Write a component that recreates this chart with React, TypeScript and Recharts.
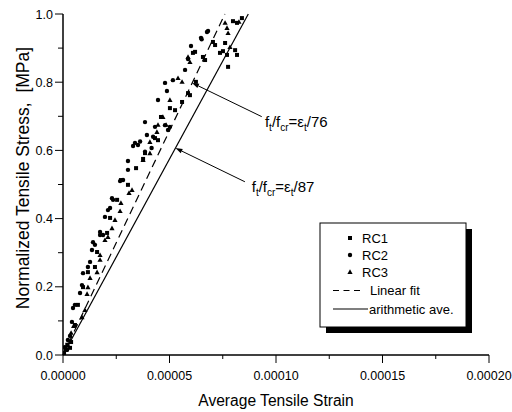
import React from 'react';
import { ScatterChart, Scatter, XAxis, YAxis, ReferenceLine, ReferenceDot, Legend } from 'recharts';

const FONT = '"Liberation Sans", Arial, Helvetica, sans-serif';

// Average tensile strain in units of 1e-6, normalized tensile stress
const RC1: [number, number][] = [
  [0.5, 0.006], [1.4, 0.015], [3.3, 0.021], [3.8, 0.038], [2.0, 0.03], [5.6, 0.088], [7.0, 0.147],
  [9.4, 0.199], [11.7, 0.243], [15.0, 0.258], [16.0, 0.302], [20.7, 0.358], [22.1, 0.402],
  [25.4, 0.455], [27.2, 0.513], [30.5, 0.499], [34.3, 0.548], [37.6, 0.575], [38.5, 0.592],
  [43.2, 0.636], [44.6, 0.63], [46.0, 0.698], [50.2, 0.724], [52.6, 0.718], [55.9, 0.742],
  [58.7, 0.768], [59.6, 0.762], [62.4, 0.801], [61.0, 0.886], [62.0, 0.889], [65.7, 0.874],
  [66.7, 0.865], [70.4, 0.918], [71.4, 0.909], [73.7, 0.886], [75.1, 0.891], [76.1, 0.915],
  [77.0, 0.88], [77.5, 0.845], [80.8, 0.894], [81.7, 0.88], [79.8, 0.979], [81.7, 0.974], [84.0, 0.988],
];

const RC2: [number, number][] = [
  [0.9, 0.023], [1.9, 0.015], [2.3, 0.044], [3.3, 0.056], [4.2, 0.097], [4.7, 0.138], [5.6, 0.147],
  [8.0, 0.182], [8.9, 0.205], [9.4, 0.24], [11.7, 0.258], [12.7, 0.273], [13.6, 0.308], [14.1, 0.331],
  [15.0, 0.323], [17.4, 0.361], [17.4, 0.352], [18.8, 0.352], [19.7, 0.405], [21.1, 0.425], [22.1, 0.431],
  [23.0, 0.46], [23.5, 0.455], [26.8, 0.51], [28.2, 0.513], [30.5, 0.543], [30.5, 0.569], [32.9, 0.613],
  [33.8, 0.622], [35.2, 0.616], [36.2, 0.626], [38.5, 0.683], [38.5, 0.596], [39.4, 0.645], [41.6, 0.607],
  [42.3, 0.64], [43.2, 0.669], [44.6, 0.748], [47.9, 0.674], [47.9, 0.798], [48.8, 0.774], [49.3, 0.66],
  [50.2, 0.669], [51.6, 0.806], [57.3, 0.836], [58.7, 0.868], [60.1, 0.906], [64.8, 0.93], [65.1, 0.926],
  [67.6, 0.947], [68.1, 0.95],
];

const RC3: [number, number][] = [
  [2.3, 0.029], [3.8, 0.065], [5.0, 0.085], [8.9, 0.111], [10.3, 0.132], [11.3, 0.179], [11.7, 0.199],
  [12.7, 0.226], [16.0, 0.243], [17.4, 0.279], [17.4, 0.293], [19.7, 0.337], [21.1, 0.346], [23.0, 0.372],
  [24.4, 0.396], [26.8, 0.422], [27.2, 0.446], [31.0, 0.475], [32.4, 0.484], [37.6, 0.572], [40.8, 0.592],
  [40.8, 0.625], [44.1, 0.654], [44.6, 0.675], [46.9, 0.698], [48.4, 0.675], [50.2, 0.748], [54.0, 0.812],
  [55.9, 0.801], [58.7, 0.874], [59.6, 0.859], [76.1, 0.974], [77.0, 0.959], [77.5, 0.944], [78.4, 0.903],
  [82.6, 0.977],
];

// f_t/f_cr = eps_t / k   (eps_t in 1e-6)
const FIT_K = 76;
const AVE_K = 87;

const X_TICKS = [0, 25, 50, 75, 100, 125, 150, 175, 200];
const X_MAJOR = [0, 50, 100, 150, 200];
const Y_TICKS = [0, 0.1, 0.2, 0.3, 0.4, 0.5, 0.6, 0.7, 0.8, 0.9, 1.0];
const Y_MAJOR = [0, 0.2, 0.4, 0.6, 0.8, 1.0];

// annotation arrows: start (near text) -> target on the line; text anchor
const ANN_K = [FIT_K, AVE_K];
const ANN_FROM: [number, number][] = [[93.3, 0.699], [85.4, 0.508]];
const ANN_TO: [number, number][] = [[60.6, 0.798], [52.8, 0.607]];
const ANN_TEXT: [number, number][] = [[94.8, 0.6695], [88.6, 0.479]];

const toPts = (arr: [number, number][]) => arr.map(([x, y]) => ({ x, y }));

const SquareShape = (p: any) => <rect x={p.cx - 2} y={p.cy - 2} width={4} height={4} fill="#000" />;
const CircleShape = (p: any) => <circle cx={p.cx} cy={p.cy} r={2.2} fill="#000" />;
const TriShape = (p: any) => (
  <polygon points={`${p.cx},${p.cy - 2.7} ${p.cx - 2.6},${p.cy + 2} ${p.cx + 2.6},${p.cy + 2}`} fill="#000" />
);

const XTick = (props: any) => {
  const { x, y, payload } = props;
  const v = payload.value;
  const major = X_MAJOR.includes(v);
  return (
    <g>
      <line x1={x} x2={x} y1={y} y2={y + (major ? 8 : 4)} stroke="#000" strokeWidth={1} />
      {major && (
        <text x={x} y={y + 25} textAnchor="middle" fontSize={12.5} fontFamily={FONT} fill="#000">
          {(v / 1e6).toFixed(5)}
        </text>
      )}
    </g>
  );
};

const YTick = (props: any) => {
  const { x, y, payload } = props;
  const v = payload.value;
  const major = Y_MAJOR.some((m) => Math.abs(m - v) < 1e-9);
  return (
    <g>
      <line x1={x} x2={x - (major ? 8 : 5)} y1={y} y2={y} stroke="#000" strokeWidth={1} />
      {major && (
        <text x={x - 10} y={y + 4.5} textAnchor="end" fontSize={12.5} fontFamily={FONT} fill="#000">
          {v.toFixed(1)}
        </text>
      )}
    </g>
  );
};

const TopTick = (props: any) => {
  const { x, y } = props;
  return <line x1={x} x2={x} y1={y} y2={y + 3} stroke="#000" strokeWidth={1} />;
};
const RightTick = (props: any) => {
  const { x, y } = props;
  return <line x1={x} x2={x - 3} y1={y} y2={y} stroke="#000" strokeWidth={1} />;
};

const ArrowShape = (props: any) => {
  const { x1, y1, x2, y2 } = props;
  const dx = x2 - x1;
  const dy = y2 - y1;
  const len = Math.sqrt(dx * dx + dy * dy) || 1;
  const ux = dx / len;
  const uy = dy / len;
  const L = 7;
  const W = 2.3;
  const bx = x2 - ux * L;
  const by = y2 - uy * L;
  return (
    <g>
      <line x1={x1} y1={y1} x2={bx} y2={by} stroke="#000" strokeWidth={1} />
      <polygon
        points={`${x2},${y2} ${bx - uy * W},${by + ux * W} ${bx + uy * W},${by - ux * W}`}
        fill="#000"
      />
    </g>
  );
};

const makeAnnText = (k: number) => (props: any) => {
  const { cx, cy } = props;
  return (
    <text x={cx} y={cy} fontSize={15} fontFamily={FONT} fill="#000">
      <tspan>f</tspan>
      <tspan fontSize={10} dy={4}>t</tspan>
      <tspan dy={-4}>/f</tspan>
      <tspan fontSize={10} dy={4}>cr</tspan>
      <tspan dy={-4}>=ε</tspan>
      <tspan fontSize={10} dy={4}>t</tspan>
      <tspan dy={-4}>{`/${k}`}</tspan>
    </text>
  );
};

const LEGEND_ITEMS = ['RC1', 'RC2', 'RC3', 'Linear fit', 'arithmetic ave.'];

const LegendBox = () => {
  const ox = 315;
  const oy = 215;
  const bx = 320 - ox;
  const by = 223 - oy;
  const bw = 146;
  const bh = 104;
  const rows = [238, 255, 272, 290.5, 309].map((v) => v - oy);
  const mx = 350 - ox;
  const tx = 362 - ox;
  const ts = { fontSize: 13, fontFamily: FONT, fill: '#000' } as const;
  return (
    <svg width={170} height={125} style={{ display: 'block' }}>
      <rect x={bx + 6} y={by + 6} width={bw} height={bh} fill="#000" />
      <rect x={bx} y={by} width={bw} height={bh} fill="#fff" stroke="#000" strokeWidth={1} />
      <SquareShape cx={mx} cy={rows[0]} />
      <text x={tx} y={rows[0] + 4.5} {...ts}>{LEGEND_ITEMS[0]}</text>
      <CircleShape cx={mx} cy={rows[1]} />
      <text x={tx} y={rows[1] + 4.5} {...ts}>{LEGEND_ITEMS[1]}</text>
      <TriShape cx={mx} cy={rows[2]} />
      <text x={tx} y={rows[2] + 4.5} {...ts}>{LEGEND_ITEMS[2]}</text>
      <line x1={333 - ox} x2={360 - ox} y1={rows[3]} y2={rows[3]} stroke="#000" strokeWidth={1.2} strokeDasharray="6 4.5" />
      <text x={370 - ox} y={rows[3] + 4.5} {...ts}>{LEGEND_ITEMS[3]}</text>
      <line x1={333 - ox} x2={368 - ox} y1={rows[4]} y2={rows[4]} stroke="#000" strokeWidth={1.2} />
      <text x={369 - ox} y={rows[4] + 4.5} {...ts}>{LEGEND_ITEMS[4]}</text>
    </svg>
  );
};

export default function App() {
  return (
    <div style={{ position: 'absolute', left: 0, top: 0, width: 512, height: 412, background: '#fff', fontFamily: FONT }}>
      <ScatterChart width={512} height={412} margin={{ top: 14, right: 23, bottom: 0, left: 0 }}>
        <XAxis
          xAxisId={0}
          type="number"
          dataKey="x"
          domain={[0, 200]}
          ticks={X_TICKS}
          interval={0}
          height={57}
          tickLine={false}
          tickSize={0}
          tickMargin={0}
          tick={<XTick />}
          axisLine={{ stroke: '#000', strokeWidth: 1.5 }}
          allowDataOverflow
          label={() => (
            <text x={276} y={406} textAnchor="middle" fontSize={15.6} fontFamily={FONT} fill="#000">
              Average Tensile Strain
            </text>
          )}
        />
        <YAxis
          yAxisId={0}
          type="number"
          dataKey="y"
          domain={[0, 1]}
          ticks={Y_TICKS}
          interval={0}
          width={63}
          tickLine={false}
          tickSize={0}
          tickMargin={0}
          tick={<YTick />}
          axisLine={{ stroke: '#000', strokeWidth: 1.5 }}
          allowDataOverflow
          label={() => (
            <text
              x={29}
              y={178}
              transform="rotate(-90, 29, 178)"
              textAnchor="middle"
              fontSize={17.5}
              fontFamily={FONT}
              fill="#000"
            >
              {'Normalized Tensile Stress,\u00a0\u00a0[MPa]'}
            </text>
          )}
        />
        <XAxis
          xAxisId="top"
          orientation="top"
          type="number"
          domain={[0, 200]}
          ticks={X_TICKS}
          interval={0}
          height={0}
          tickLine={false}
          tickSize={0}
          tickMargin={0}
          tick={<TopTick />}
          axisLine={{ stroke: '#000', strokeWidth: 1.5 }}
        />
        <YAxis
          yAxisId="right"
          orientation="right"
          type="number"
          domain={[0, 1]}
          ticks={Y_TICKS}
          interval={0}
          width={0}
          tickLine={false}
          tickSize={0}
          tickMargin={0}
          tick={<RightTick />}
          axisLine={{ stroke: '#000', strokeWidth: 1.5 }}
        />
        <ReferenceLine
          segment={[{ x: 0, y: 0 }, { x: FIT_K, y: 1 }]}
          stroke="#000"
          strokeWidth={1.2}
          strokeDasharray="8 5"
        />
        <ReferenceLine segment={[{ x: 0, y: 0 }, { x: AVE_K, y: 1 }]} stroke="#000" strokeWidth={1.2} />
        <Scatter name="RC1" data={toPts(RC1)} shape={SquareShape} isAnimationActive={false} />
        <Scatter name="RC2" data={toPts(RC2)} shape={CircleShape} isAnimationActive={false} />
        <Scatter name="RC3" data={toPts(RC3)} shape={TriShape} isAnimationActive={false} />
        {ANN_K.map((k, i) => (
          <ReferenceLine
            key={`arr${i}`}
            segment={[{ x: ANN_FROM[i][0], y: ANN_FROM[i][1] }, { x: ANN_TO[i][0], y: ANN_TO[i][1] }]}
            shape={ArrowShape}
          />
        ))}
        {ANN_K.map((k, i) => (
          <ReferenceDot key={`txt${i}`} x={ANN_TEXT[i][0]} y={ANN_TEXT[i][1]} r={0} shape={makeAnnText(k)} />
        ))}
        <Legend
          layout="horizontal"
          verticalAlign="middle"
          align="center"
          wrapperStyle={{ left: 315, top: 215, width: 170, height: 125 }}
          content={() => <LegendBox />}
        />
      </ScatterChart>
    </div>
  );
}
